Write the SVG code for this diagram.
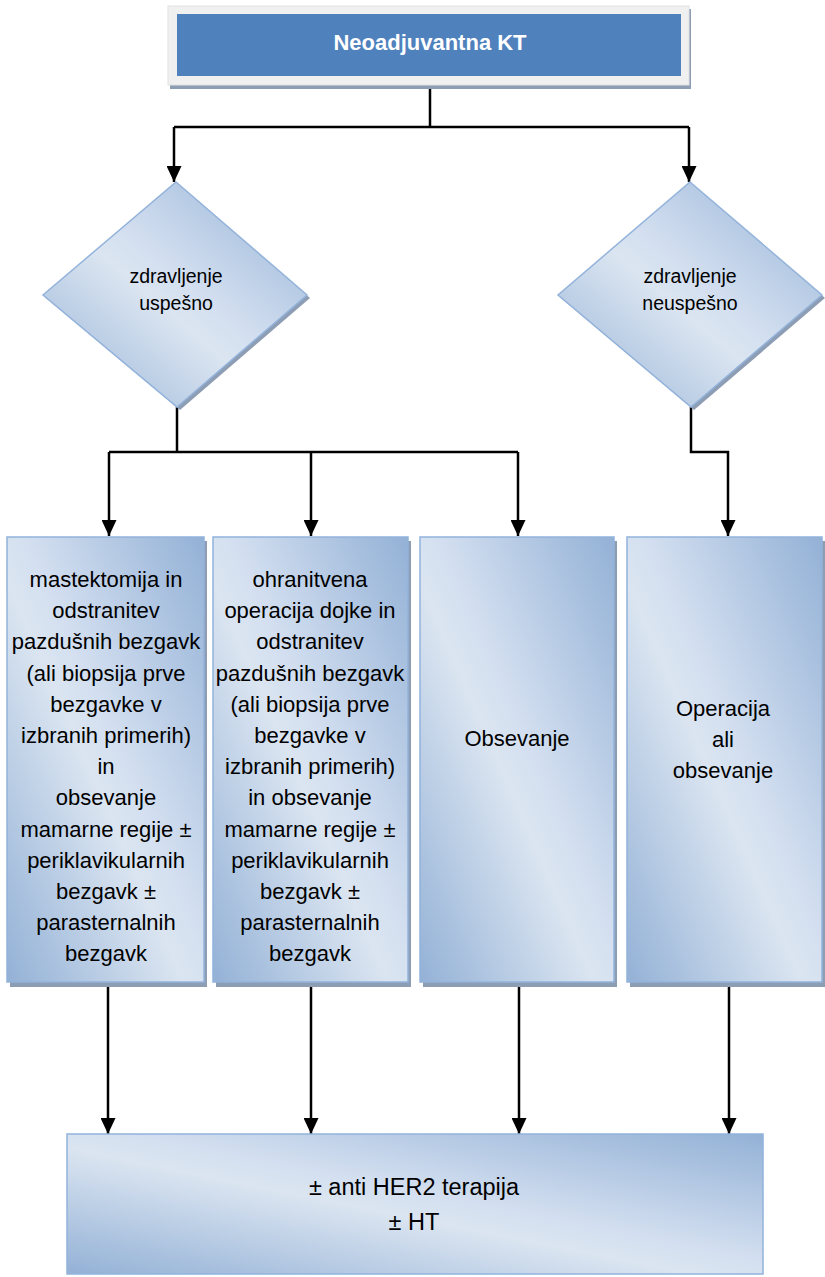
<svg xmlns="http://www.w3.org/2000/svg" width="825" height="1277" viewBox="0 0 825 1277">
<style>
.txt{font-family:"Liberation Sans",Arial,sans-serif;font-size:22px;fill:#000;text-anchor:middle}
.dtxt{font-family:"Liberation Sans",Arial,sans-serif;font-size:19.5px;fill:#000;text-anchor:middle}
.btxt{font-family:"Liberation Sans",Arial,sans-serif;font-size:23.5px;fill:#000;text-anchor:middle}
.ttxt{font-family:"Liberation Sans",Arial,sans-serif;font-size:22px;font-weight:bold;fill:#fff;text-anchor:middle}
.shape{fill:url(#g);stroke:#93b3db;stroke-width:1.5}
.shadow{fill:#8c9db4}
.con{fill:none;stroke:#000;stroke-width:2.5}
.arr{marker-end:url(#ah)}
</style>
<defs>
<linearGradient id="g" x1="1" y1="0" x2="0" y2="1">
<stop offset="0" stop-color="#93b1d6"/>
<stop offset="0.45" stop-color="#d3dff0"/>
<stop offset="0.55" stop-color="#dbe5f1"/>
<stop offset="1" stop-color="#93b1d6"/>
</linearGradient>
<marker id="ah" viewBox="0 0 16 15" refX="16" refY="7.5" markerWidth="16" markerHeight="15" markerUnits="userSpaceOnUse" orient="auto">
<path d="M0,0 L16,7.5 L0,15 z" fill="#000"/>
</marker>
</defs>

<g id="connectors">
<path class="con" d="M430,84 V127"/>
<path class="con" d="M174,127 H689"/>
<path class="con arr" d="M174,127 V182"/>
<path class="con arr" d="M689,127 V182"/>
<path class="con" d="M177,407 V452"/>
<path class="con" d="M109,452 H518"/>
<path class="con arr" d="M109,452 V536"/>
<path class="con arr" d="M311,452 V536"/>
<path class="con arr" d="M518,452 V536"/>
<path class="con arr" d="M691,407 V452 H728 V536"/>
<path class="con arr" d="M108,982 V1134"/>
<path class="con arr" d="M311,982 V1134"/>
<path class="con arr" d="M519,982 V1134"/>
<path class="con arr" d="M729,982 V1134"/>
</g>

<g id="n-start">
<rect x="170" y="9" width="521" height="80" class="shadow"/>
<rect x="168" y="6" width="521" height="79" fill="#f0f0f0" stroke="#e2e2e2" stroke-width="1"/>
<rect x="177" y="14" width="504" height="62" fill="#4f81bd"/>
<text class="ttxt" x="430" y="50">Neoadjuvantna KT</text>
</g>

<g id="n-uspesno">
<polygon class="shadow" points="179,185 310,298 180,410 46,298"/>
<polygon class="shape" points="176,182 307,295 177,407 43,295"/>
<text class="dtxt" x="176" y="283">zdravljenje</text>
<text class="dtxt" x="176" y="310">uspešno</text>
</g>

<g id="n-neuspesno">
<polygon class="shadow" points="693,185 825,298 694,410 561,298"/>
<polygon class="shape" points="690,182 822,295 691,407 558,295"/>
<text class="dtxt" x="690" y="283">zdravljenje</text>
<text class="dtxt" x="690" y="310">neuspešno</text>
</g>

<g id="n-mastektomija">
<rect class="shadow" x="10" y="541" width="197" height="446"/>
<rect class="shape" x="7" y="537" width="197" height="445"/>
<text class="txt" x="106" y="587">mastektomija in</text>
<text class="txt" x="106" y="618">odstranitev</text>
<text class="txt" x="106" y="649">pazdušnih bezgavk</text>
<text class="txt" x="106" y="681">(ali biopsija prve</text>
<text class="txt" x="106" y="712">bezgavke v</text>
<text class="txt" x="106" y="743">izbranih primerih)</text>
<text class="txt" x="106" y="774">in</text>
<text class="txt" x="106" y="805">obsevanje</text>
<text class="txt" x="106" y="837">mamarne regije ±</text>
<text class="txt" x="106" y="868">periklavikularnih</text>
<text class="txt" x="106" y="899">bezgavk ±</text>
<text class="txt" x="106" y="930">parasternalnih</text>
<text class="txt" x="106" y="961">bezgavk</text>
</g>

<g id="n-ohranitvena">
<rect class="shadow" x="216" y="541" width="195" height="446"/>
<rect class="shape" x="213" y="537" width="195" height="445"/>
<text class="txt" x="310" y="587">ohranitvena</text>
<text class="txt" x="310" y="618">operacija dojke in</text>
<text class="txt" x="310" y="649">odstranitev</text>
<text class="txt" x="310" y="681">pazdušnih bezgavk</text>
<text class="txt" x="310" y="712">(ali biopsija prve</text>
<text class="txt" x="310" y="743">bezgavke v</text>
<text class="txt" x="310" y="774">izbranih primerih)</text>
<text class="txt" x="310" y="805">in obsevanje</text>
<text class="txt" x="310" y="837">mamarne regije ±</text>
<text class="txt" x="310" y="868">periklavikularnih</text>
<text class="txt" x="310" y="899">bezgavk ±</text>
<text class="txt" x="310" y="930">parasternalnih</text>
<text class="txt" x="310" y="961">bezgavk</text>
</g>

<g id="n-obsevanje">
<rect class="shadow" x="423" y="541" width="194" height="446"/>
<rect class="shape" x="420" y="537" width="194" height="445"/>
<text class="txt" x="517" y="746">Obsevanje</text>
</g>

<g id="n-operacija">
<rect class="shadow" x="630" y="541" width="195" height="446"/>
<rect class="shape" x="627" y="537" width="195" height="445"/>
<text class="txt" x="723" y="716">Operacija</text>
<text class="txt" x="723" y="747">ali</text>
<text class="txt" x="723" y="778">obsevanje</text>
</g>

<g id="n-terapija">
<rect class="shape" x="67" y="1134" width="696" height="140"/>
<text class="btxt" x="414" y="1195">± anti HER2 terapija</text>
<text class="btxt" x="414" y="1230">± HT</text>
</g>
</svg>
